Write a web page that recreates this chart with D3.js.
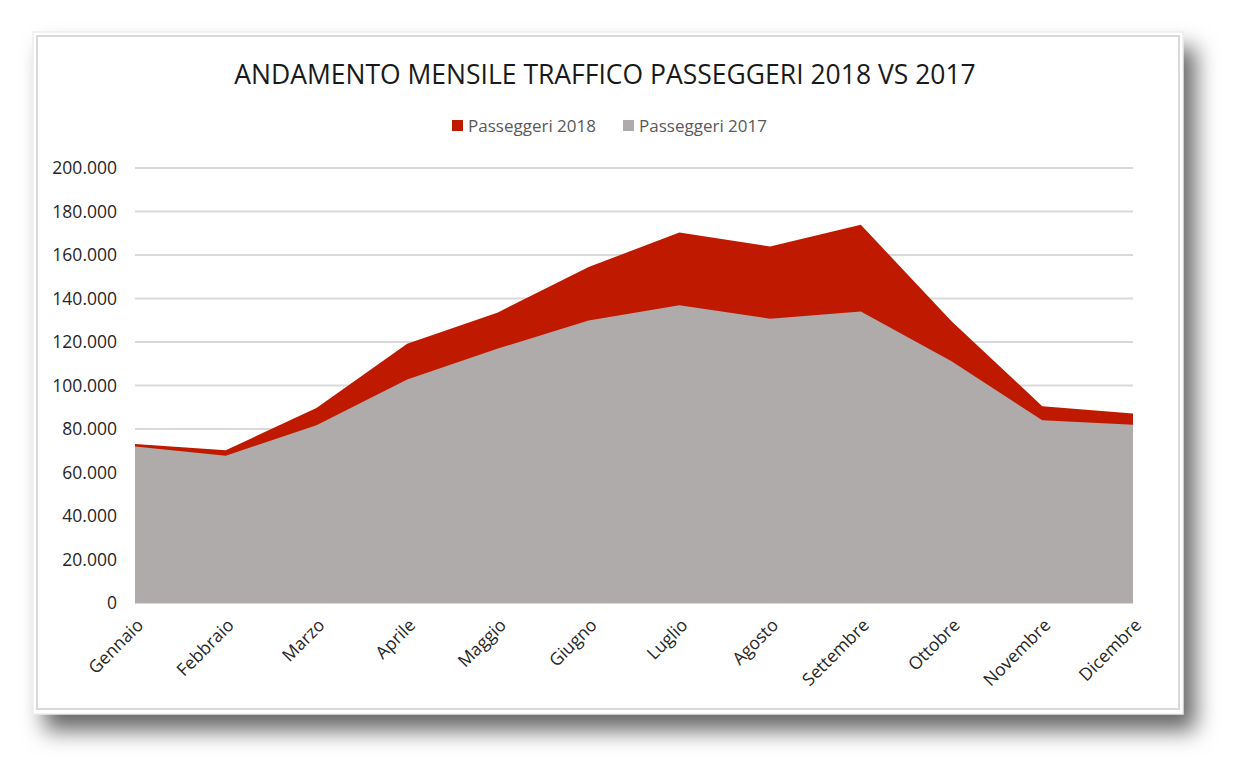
<!DOCTYPE html>
<html>
<head>
<meta charset="utf-8">
<script src="https://cdn.jsdelivr.net/npm/d3@7"></script>
<style>
  body { margin: 0; background: #ffffff; }
  text { font-family: "Open Sans", sans-serif; }
</style>
</head>
<body>
<div id="canvas"></div>
<script>
"use strict"

// DATA
let months = ["Gennaio", "Febbraio", "Marzo", "Aprile", "Maggio", "Giugno",
  "Luglio", "Agosto", "Settembre", "Ottobre", "Novembre", "Dicembre"];

let pax2018 = [73100, 70200, 89700, 119200, 133600, 154500,
  170300, 163900, 173900, 129500, 90500, 87100];

let pax2017 = [72000, 67700, 81700, 102800, 117000, 129900,
  136900, 130700, 134000, 111200, 84000, 81900];

let yTicks = [0, 20000, 40000, 60000, 80000, 100000, 120000, 140000, 160000, 180000, 200000];

let seriesNames = ["Passeggeri 2018", "Passeggeri 2017"];

// drawing config
let svgWidth = 1245;
let svgHeight = 779;

let plotLeft = 135;
let plotRight = 1133;
let plotTop = 168;
let plotBottom = 603;

let red = "#bf1a00";
let grey = "#afabab";

let svg = d3.select("#canvas")
  .append("svg")
  .attr("width", svgWidth)
  .attr("height", svgHeight);

// shadow filter for the chart frame
let defs = svg.append("defs");
let filter = defs.append("filter")
  .attr("id", "shadow")
  .attr("x", "-5%").attr("y", "-5%")
  .attr("width", "115%").attr("height", "125%");
filter.append("feDropShadow")
  .attr("dx", 12)
  .attr("dy", 16)
  .attr("stdDeviation", 11)
  .attr("flood-color", "#000")
  .attr("flood-opacity", 0.6);

/* frame */
svg.append("rect")
  .attr("x", 33)
  .attr("y", 32)
  .attr("width", 1150)
  .attr("height", 682)
  .attr("fill", "white")
  .attr("stroke", "#e6e6e6")
  .attr("stroke-width", 1)
  .attr("filter", "url(#shadow)");

svg.append("rect")
  .attr("x", 37)
  .attr("y", 36)
  .attr("width", 1142)
  .attr("height", 673)
  .attr("fill", "white")
  .attr("stroke", "#d9d9d9")
  .attr("stroke-width", 2);

// SCALES
let xScale = d3.scalePoint()
  .domain(months)
  .range([plotLeft, plotRight]);

let yScale = d3.scaleLinear()
  .domain([0, 200000])
  .range([plotBottom, plotTop]);

// gridlines
svg.append("g")
  .selectAll("line")
  .data(yTicks)
  .join("line")
  .attr("x1", plotLeft)
  .attr("x2", plotRight)
  .attr("y1", d => yScale(d))
  .attr("y2", d => yScale(d))
  .attr("stroke", "#d9d9d9")
  .attr("stroke-width", 2);

// AREAS (overlapping, not stacked)
let area = d3.area()
  .x((d, i) => xScale(months[i]))
  .y0(yScale(0))
  .y1(d => yScale(d));

svg.append("path")
  .datum(pax2018)
  .attr("d", area)
  .attr("fill", red);

svg.append("path")
  .datum(pax2017)
  .attr("d", area)
  .attr("fill", grey);

// Y AXIS LABELS
let fmt = d3.formatLocale({ decimal: ",", thousands: ".", grouping: [3], currency: ["€", ""] }).format(",d");

svg.append("g")
  .selectAll("text")
  .data(yTicks)
  .join("text")
  .attr("x", 117)
  .attr("y", d => yScale(d))
  .attr("dy", "0.35em")
  .attr("text-anchor", "end")
  .attr("fill", "#262626")
  .style("font-size", "17.5px")
  .text(d => fmt(d));

// X AXIS LABELS (rotated)
svg.append("g")
  .selectAll("text")
  .data(months)
  .join("text")
  .attr("transform", d => "translate(" + (xScale(d) + 5) + ",622) rotate(-45)")
  .attr("text-anchor", "end")
  .attr("dy", "0.35em")
  .attr("fill", "#262626")
  .style("font-size", "17.5px")
  .text(d => d);

// TITLE
svg.append("text")
  .attr("x", 605)
  .attr("y", 84)
  .attr("text-anchor", "middle")
  .attr("fill", "#1a1a1a")
  .style("font-size", "26.5px")
  .text("ANDAMENTO MENSILE TRAFFICO PASSEGGERI 2018 VS 2017");

// LEGEND
let legendX = [452, 623];
let legendColors = [red, grey];

for (let i = 0; i < seriesNames.length; i++) {
  svg.append("rect")
    .attr("x", legendX[i])
    .attr("y", 120)
    .attr("width", 11)
    .attr("height", 11)
    .attr("fill", legendColors[i]);

  svg.append("text")
    .attr("x", legendX[i] + 16)
    .attr("y", 126)
    .attr("dy", "0.35em")
    .attr("fill", "#595959")
    .style("font-size", "17px")
    .text(seriesNames[i]);
}
</script>
</body>
</html>
